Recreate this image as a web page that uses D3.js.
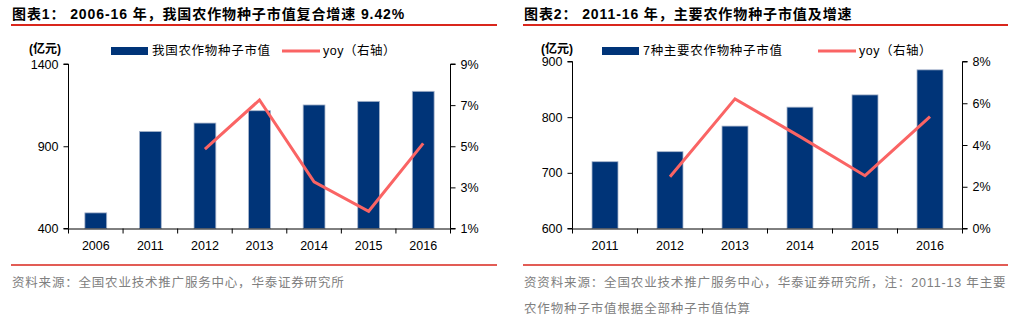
<!DOCTYPE html>
<html><head><meta charset="utf-8">
<script src="https://cdn.jsdelivr.net/npm/d3@7"></script>
<style>
html,body{margin:0;padding:0;background:#fff;}
svg{display:block;}
</style></head>
<body>
<svg id="c" width="1026" height="325"></svg>
<script>
// ---- Chart 1 data ----
const years1 = ["2006","2011","2012","2013","2014","2015","2016"];
const value1 = [495, 990, 1041, 1116, 1151, 1173, 1234];
const yoyYears1 = ["2012","2013","2014","2015","2016"];
const yoy1 = [4.86, 7.25, 3.27, 1.84, 5.14];
const leftTicks1 = [400, 900, 1400];
const rightTicks1 = [1, 3, 5, 7, 9];

// ---- Chart 2 data ----
const years2 = ["2011","2012","2013","2014","2015","2016"];
const value2 = [720, 738, 784, 818, 840, 885];
const yoyYears2 = ["2012","2013","2014","2015","2016"];
const yoy2 = [2.48, 6.21, 4.4, 2.53, 5.36];
const leftTicks2 = [600, 700, 800, 900];
const rightTicks2 = [0, 2, 4, 6, 8];

const svg = d3.select("#c");
const BAR = "#003478", LINE = "#FA6464", RED = "#D9261C";
const NUM = "'Liberation Sans', Arial, sans-serif";
const CJK = "'Liberation Sans', 'Noto Sans CJK SC', sans-serif";

function chart(o){
  const g = svg.append("g");
  // title
  g.append("text").attr("x", o.x0 + 1).attr("y", 19)
    .attr("font-family", CJK).attr("font-weight", "bold").attr("font-size", 14)
    .attr("letter-spacing", 0.9).attr("fill", "#000")
    .text(o.title);
  g.append("line").attr("x1", o.x0).attr("x2", o.x1).attr("y1", 25).attr("y2", 25)
    .attr("stroke", RED).attr("stroke-width", 2);
  g.append("line").attr("x1", o.x0).attr("x2", o.x1).attr("y1", 265).attr("y2", 265)
    .attr("stroke", RED).attr("stroke-width", 1.5);
  o.source.forEach((s, i) => {
    g.append("text").attr("x", o.x0 + 1).attr("y", 287 + i * 26)
      .attr("font-family", CJK).attr("font-size", 12.5).attr("letter-spacing", o.srcSpacing)
      .attr("fill", "#808080").text(s);
  });

  const x = d3.scaleBand().domain(o.years).range([o.px0, o.px1]).paddingInner(0.6).paddingOuter(0.3);
  const xTick = d3.scaleBand().domain(o.years).range([o.px0, o.px1]).padding(0);
  const yL = d3.scaleLinear().domain(o.ldom).range([o.py1, o.py0]);
  const yR = d3.scaleLinear().domain(o.rdom).range([o.py1, o.py0]);

  // bars
  g.append("g").selectAll("rect").data(o.values).join("rect")
    .attr("x", (d, i) => x(o.years[i]))
    .attr("width", x.bandwidth())
    .attr("y", d => yL(d))
    .attr("height", d => yL(o.ldom[0]) - yL(d))
    .attr("fill", BAR).attr("stroke", "#A9B6CC").attr("stroke-width", 0.8);

  // line
  const line = d3.line().x((d, i) => xTick(o.yoyYears[i]) + xTick.bandwidth() / 2).y(d => yR(d));
  g.append("path").datum(o.yoy).attr("d", line).attr("fill", "none")
    .attr("stroke", LINE).attr("stroke-width", 3).attr("stroke-linejoin", "miter");

  // axes
  const axL = d3.axisLeft(yL).tickValues(o.lticks).tickSize(5).tickPadding(5).tickFormat(d3.format("d"));
  const axR = d3.axisRight(yR).tickValues(o.rticks).tickSize(5).tickPadding(5).tickFormat(d => d + "%");
  const axB = d3.axisBottom(xTick).tickSize(0).tickPadding(13);
  const gl = g.append("g").attr("transform", `translate(${o.px0},0)`).call(axL);
  const gr = g.append("g").attr("transform", `translate(${o.px1},0)`).call(axR);
  const gb = g.append("g").attr("transform", `translate(0,${o.py1})`).call(axB);
  // x boundary ticks
  const bounds = o.years.map(y => xTick(y)).concat([o.px1]);
  g.append("g").selectAll("line").data(bounds).join("line")
    .attr("x1", d => d).attr("x2", d => d).attr("y1", o.py1).attr("y2", o.py1 + 5)
    .attr("stroke", "#000");
  [gl, gr, gb].forEach(a => {
    a.selectAll("path.domain").attr("stroke", "#000");
    a.selectAll("line").attr("stroke", "#000");
    a.selectAll("text").attr("font-family", NUM).attr("font-size", 12.5).attr("fill", "#000");
  });
  gl.selectAll("path.domain").attr("d", `M-5,${o.py0}H0V${o.py1}H-5`);
  gr.selectAll("path.domain").attr("d", `M5,${o.py0}H0V${o.py1}H5`);

  // legend
  g.append("text").attr("x", o.unitX).attr("y", 53).attr("font-family", CJK).attr("font-weight", "bold")
    .attr("font-size", 12).attr("fill", "#000").text("(亿元)");
  g.append("rect").attr("x", o.lg1).attr("y", 47).attr("width", 37).attr("height", 8).attr("fill", BAR);
  g.append("text").attr("x", o.lg1 + 41).attr("y", 55).attr("font-family", CJK).attr("font-size", 12.5)
    .attr("letter-spacing", 0.7).attr("fill", "#000").text(o.legend1);
  g.append("line").attr("x1", o.lg2).attr("x2", o.lg2 + 38).attr("y1", 51).attr("y2", 51)
    .attr("stroke", LINE).attr("stroke-width", 3);
  g.append("text").attr("x", o.lg2 + 41).attr("y", 55).attr("font-family", CJK).attr("font-size", 12.5)
    .attr("letter-spacing", 0.5).attr("fill", "#000").text("yoy（右轴）");
}

chart({
  x0: 11, x1: 497,
  title: "图表1：  2006-16 年，我国农作物种子市值复合增速 9.42%",
  source: ["资料来源：全国农业技术推广服务中心，华泰证券研究所"],
  srcSpacing: 0.8,
  years: years1, values: value1, yoyYears: yoyYears1, yoy: yoy1,
  px0: 68.5, px1: 450.5, py0: 64, py1: 228.5,
  ldom: [400, 1400], rdom: [1, 9], lticks: leftTicks1, rticks: rightTicks1,
  unitX: 29, lg1: 111, lg2: 282, legend1: "我国农作物种子市值"
});

chart({
  x0: 523, x1: 1008,
  title: "图表2：  2011-16 年，主要农作物种子市值及增速",
  source: ["资资料来源：全国农业技术推广服务中心，华泰证券研究所，注：2011-13 年主要",
           "农作物种子市值根据全部种子市值估算"],
  srcSpacing: 0.85,
  years: years2, values: value2, yoyYears: yoyYears2, yoy: yoy2,
  px0: 572.5, px1: 962.5, py0: 61.5, py1: 228.5,
  ldom: [600, 900], rdom: [0, 8], lticks: leftTicks2, rticks: rightTicks2,
  unitX: 541, lg1: 602, lg2: 818, legend1: "7种主要农作物种子市值"
});
</script>
</body></html>
